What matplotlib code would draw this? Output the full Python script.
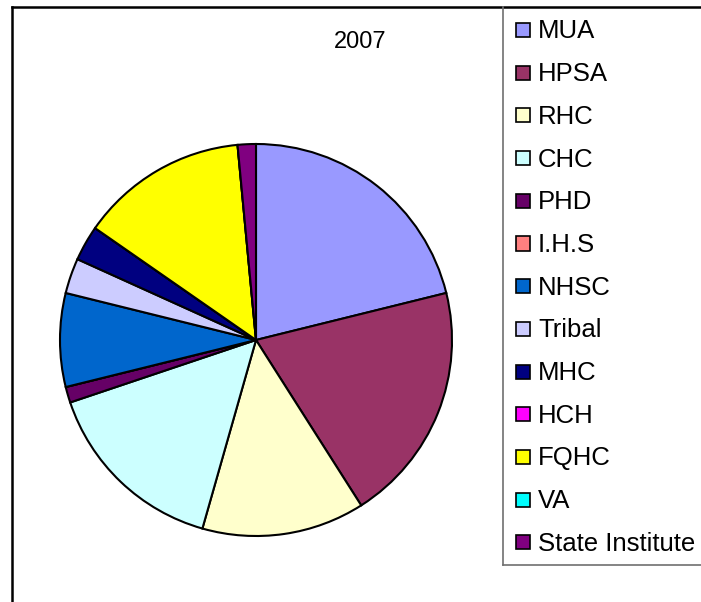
import matplotlib
matplotlib.use("Agg")
import matplotlib.pyplot as plt
from matplotlib.patches import Rectangle
from matplotlib.lines import Line2D

# ---- data ----
title = "2007"
categories = ["MUA", "HPSA", "RHC", "CHC", "PHD", "I.H.S", "NHSC", "Tribal",
              "MHC", "HCH", "FQHC", "VA", "State Institute"]
values = [21.1, 19.8, 13.4, 15.4, 1.3, 0.0, 7.7, 2.9, 2.9, 0.0, 13.8, 0.0, 1.5]
colors = ["#9999FF", "#993366", "#FFFFCC", "#CCFFFF", "#660066", "#FF8080",
          "#0066CC", "#CCCCFF", "#000080", "#FF00FF", "#FFFF00", "#00FFFF",
          "#800080"]

plt.rcParams['font.family'] = ['Liberation Sans', 'DejaVu Sans']

W, H = 701, 602
fig = plt.figure(figsize=(W / 100, H / 100), dpi=100)
fig.patch.set_facecolor("white")


def fx(x):
    return x / W


def fy(y):
    return 1 - y / H


# outer chart frame (left and top edges visible)
fig.add_artist(Line2D([fx(12), fx(12)], [fy(7), fy(H + 5)], color="black",
                      lw=1.8, transform=fig.transFigure))
fig.add_artist(Line2D([fx(12), fx(W + 5)], [fy(7), fy(7)], color="black",
                      lw=1.8, transform=fig.transFigure))

# pie
cx, cy, r = 256, 340, 196
ax = fig.add_axes([fx(cx - r), fy(cy + r), (2 * r) / W, (2 * r) / H])
ax.pie(values, colors=colors, startangle=90, counterclock=False, radius=1,
       wedgeprops=dict(edgecolor="black", linewidth=1.5))
ax.set_xlim(-1.0, 1.0)
ax.set_ylim(-1.0, 1.0)
ax.set_aspect("auto")
ax.axis("off")

# title
fig.text(fx(360), fy(42), title, ha="center", va="center", fontsize=17)

# legend box
lg_left, lg_top, lg_bottom = 503, 7, 565
fig.add_artist(Line2D([fx(lg_left), fx(lg_left)], [fy(lg_top), fy(lg_bottom)],
                      color="#707070", lw=1.2, transform=fig.transFigure))
fig.add_artist(Line2D([fx(lg_left), fx(W + 5)], [fy(lg_bottom), fy(lg_bottom)],
                      color="#707070", lw=1.2, transform=fig.transFigure))

y0, dy = 30, 42.7
for i, (lab, col) in enumerate(zip(categories, colors)):
    yc = y0 + i * dy
    fig.add_artist(Rectangle((fx(515.5), fy(yc + 7)), 14 / W, 14 / H,
                             facecolor=col, edgecolor="black", lw=1.2,
                             transform=fig.transFigure))
    fig.text(fx(538), fy(yc + 8.5), lab, ha="left", va="baseline",
             fontsize=18.5)

fig.savefig("out.png", dpi=100, facecolor="white")
